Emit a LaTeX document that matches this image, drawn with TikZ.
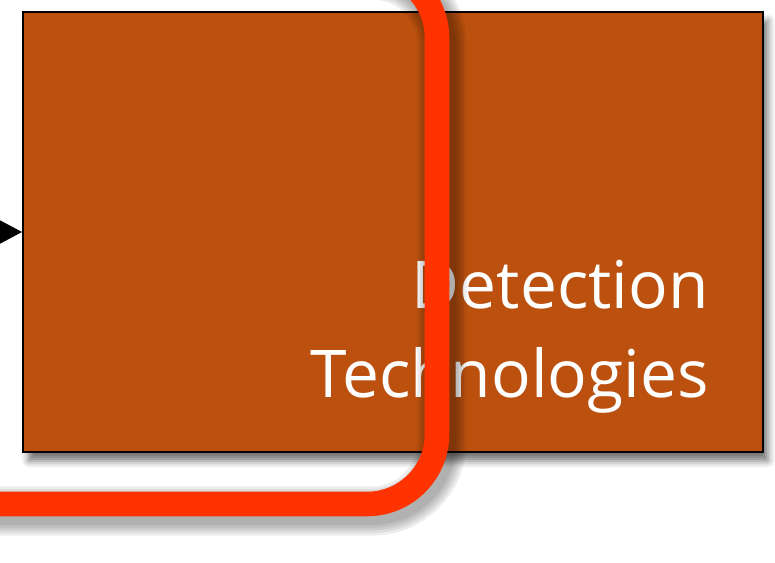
\documentclass[tikz,border=0pt]{standalone}
\usepackage{fontspec}
\setmainfont{Open Sans}
\usetikzlibrary{shadows.blur, arrows.meta}
\definecolor{rust}{RGB}{188,81,15}
\definecolor{loopred}{RGB}{255,51,0}

\begin{document}
\begin{tikzpicture}[x=0.02cm, y=-0.02cm, >={Triangle[length=12.5pt, width=13pt]}]
    % --- SETTINGS ---
    \def\loopX{437}
    \def\loopBot{504}
    \def\loopTop{-32}
    \tikzset{
        techbox/.style={draw=black, line width=1.2pt, fill=rust, inner sep=0pt,
            minimum width=14.8cm, minimum height=8.8cm,
            blur shadow={shadow xshift=3pt, shadow yshift=-5pt, shadow blur radius=4pt, shadow opacity=55}},
        techtext/.style={text=white, font=\fontsize{37.5}{50.6}\selectfont, align=right, inner sep=0pt},
        loopline/.style={line width=14pt, loopred, rounded corners=1.4cm},
        loopshade/.style={line width=#1, black, opacity=0.07, rounded corners=1.4cm},
    }
    \useasboundingbox (0,0) rectangle (775,562);
    \clip (0,0) rectangle (775,562);

    % =========================================
    % BOX
    % =========================================
    \node[techbox] (detect) at (393, 232) {};
    \node[techtext, anchor=south east] (label) at (709, 414) {Detection\\Technologies};

    % Incoming Arrow
    \coordinate (feed) at (-40, 232);
    \draw[->, line width=1.2pt] (feed) -- (detect.west);

    % =========================================
    % RED LOOP
    % =========================================
    % Shadow (a few wide faint strokes)
    \foreach \w in {16, 19, 22, 25, 28} {
        \draw[loopshade=\w pt, shift={(5, 7)}] (-20, \loopBot) -- (\loopX, \loopBot) -- (\loopX, \loopTop) -- (300, \loopTop);
    }
    % Line
    \draw[loopline] (-20, \loopBot) -- (\loopX, \loopBot) -- (\loopX, \loopTop) -- (300, \loopTop);
\end{tikzpicture}
\end{document}
